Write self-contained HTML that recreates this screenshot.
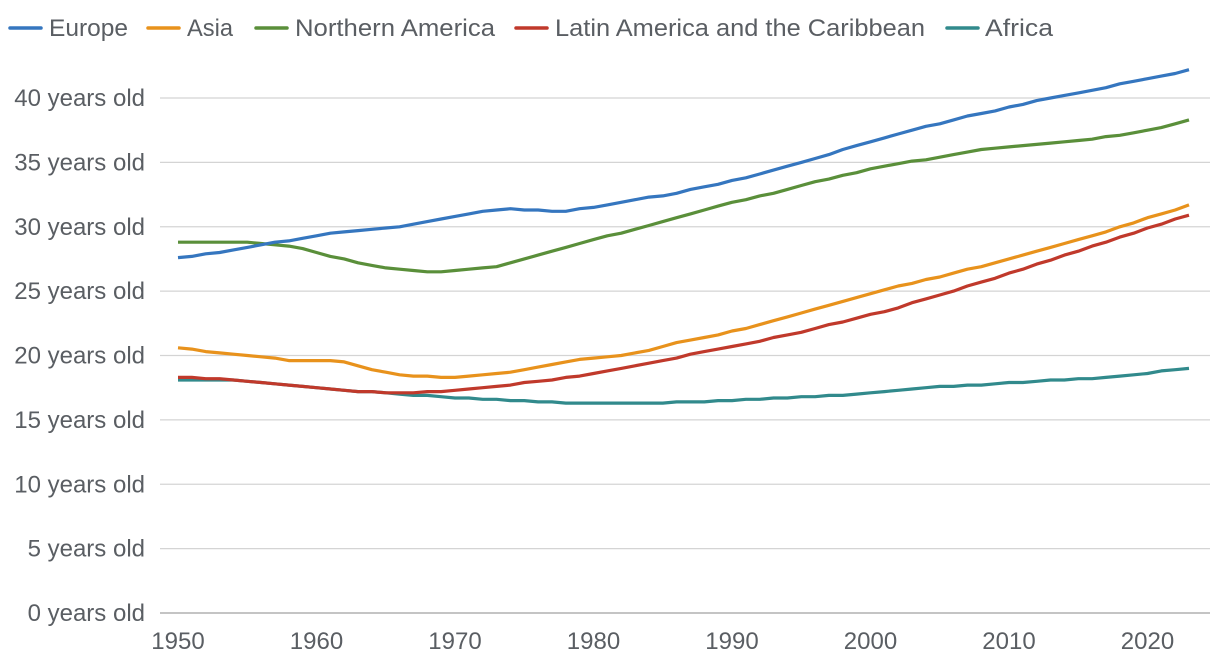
<!DOCTYPE html>
<html><head><meta charset="utf-8"><style>
body{margin:0;background:#fff;font-family:"Liberation Sans",sans-serif;}
svg text{font-family:"Liberation Sans",sans-serif;fill:#5a5e63;}
</style></head><body>
<svg id="chart" width="1220" height="662" xmlns="http://www.w3.org/2000/svg"></svg>
<script>
const years = Array.from({length:74},(_,i)=>1950+i);
const seriesNames = ["Europe","Asia","Northern America","Latin America and the Caribbean","Africa"];
const seriesColors = ["#3576bf","#e8921c","#5a8f3a","#c0392b","#318a8c"];
const europe = [27.6,27.7,27.9,28.0,28.2,28.4,28.6,28.8,28.9,29.1,29.3,29.5,29.6,29.7,29.8,29.9,30.0,30.2,30.4,30.6,30.8,31.0,31.2,31.3,31.4,31.3,31.3,31.2,31.2,31.4,31.5,31.7,31.9,32.1,32.3,32.4,32.6,32.9,33.1,33.3,33.6,33.8,34.1,34.4,34.7,35.0,35.3,35.6,36.0,36.3,36.6,36.9,37.2,37.5,37.8,38.0,38.3,38.6,38.8,39.0,39.3,39.5,39.8,40.0,40.2,40.4,40.6,40.8,41.1,41.3,41.5,41.7,41.9,42.2];
const asia = [20.6,20.5,20.3,20.2,20.1,20.0,19.9,19.8,19.6,19.6,19.6,19.6,19.5,19.2,18.9,18.7,18.5,18.4,18.4,18.3,18.3,18.4,18.5,18.6,18.7,18.9,19.1,19.3,19.5,19.7,19.8,19.9,20.0,20.2,20.4,20.7,21.0,21.2,21.4,21.6,21.9,22.1,22.4,22.7,23.0,23.3,23.6,23.9,24.2,24.5,24.8,25.1,25.4,25.6,25.9,26.1,26.4,26.7,26.9,27.2,27.5,27.8,28.1,28.4,28.7,29.0,29.3,29.6,30.0,30.3,30.7,31.0,31.3,31.7];
const northernAmerica = [28.8,28.8,28.8,28.8,28.8,28.8,28.7,28.6,28.5,28.3,28.0,27.7,27.5,27.2,27.0,26.8,26.7,26.6,26.5,26.5,26.6,26.7,26.8,26.9,27.2,27.5,27.8,28.1,28.4,28.7,29.0,29.3,29.5,29.8,30.1,30.4,30.7,31.0,31.3,31.6,31.9,32.1,32.4,32.6,32.9,33.2,33.5,33.7,34.0,34.2,34.5,34.7,34.9,35.1,35.2,35.4,35.6,35.8,36.0,36.1,36.2,36.3,36.4,36.5,36.6,36.7,36.8,37.0,37.1,37.3,37.5,37.7,38.0,38.3];
const latinAmerica = [18.3,18.3,18.2,18.2,18.1,18.0,17.9,17.8,17.7,17.6,17.5,17.4,17.3,17.2,17.2,17.1,17.1,17.1,17.2,17.2,17.3,17.4,17.5,17.6,17.7,17.9,18.0,18.1,18.3,18.4,18.6,18.8,19.0,19.2,19.4,19.6,19.8,20.1,20.3,20.5,20.7,20.9,21.1,21.4,21.6,21.8,22.1,22.4,22.6,22.9,23.2,23.4,23.7,24.1,24.4,24.7,25.0,25.4,25.7,26.0,26.4,26.7,27.1,27.4,27.8,28.1,28.5,28.8,29.2,29.5,29.9,30.2,30.6,30.9];
const africa = [18.1,18.1,18.1,18.1,18.1,18.0,17.9,17.8,17.7,17.6,17.5,17.4,17.3,17.2,17.2,17.1,17.0,16.9,16.9,16.8,16.7,16.7,16.6,16.6,16.5,16.5,16.4,16.4,16.3,16.3,16.3,16.3,16.3,16.3,16.3,16.3,16.4,16.4,16.4,16.5,16.5,16.6,16.6,16.7,16.7,16.8,16.8,16.9,16.9,17.0,17.1,17.2,17.3,17.4,17.5,17.6,17.6,17.7,17.7,17.8,17.9,17.9,18.0,18.1,18.1,18.2,18.2,18.3,18.4,18.5,18.6,18.8,18.9,19.0];
const yTicks = [0,5,10,15,20,25,30,35,40];
const xTicks = [1950,1960,1970,1980,1990,2000,2010,2020];

const svg = document.getElementById('chart');
const NS = "http://www.w3.org/2000/svg";
const X = y => 178 + (y-1950)*13.85;
const Y = v => 613 - v*12.875;
function mk(tag, attrs){const e=document.createElementNS(NS,tag);for(const k in attrs)e.setAttribute(k,attrs[k]);svg.appendChild(e);return e;}

yTicks.forEach(t=>{
  const g = mk('line',{x1:160,x2:1210,y1:Y(t),y2:Y(t),stroke:t===0?'#c4c4c4':'#d4d4d4','stroke-width':t===0?2:1.3});
  
  
  const l = mk('text',{x:145,y:Y(t)+8,'text-anchor':'end','font-size':24});
  l.textContent = t+' years old';
  
  
});
xTicks.forEach(t=>{
  const l = mk('text',{x:X(t),y:649,'text-anchor':'middle','font-size':24});
  l.textContent = t;
  
  
});
const data = [europe, asia, northernAmerica, latinAmerica, africa];
const order = [4,3,1,2,0];
order.forEach(i=>{
  const d = data[i].map((v,j)=>(j?'L':'M')+X(years[j]).toFixed(1)+','+Y(v).toFixed(1)).join('');
  const p = mk('path',{d:d,fill:'none',stroke:seriesColors[i],'stroke-width':3.2,'stroke-linejoin':'round'});
  
  
});
const legendX = [10,148,256,516,947];
const legendTextX = [49,187,295,555,985];
const legendW = [79,46,200,370,68];
seriesNames.forEach((n,i)=>{
  const s = mk('line',{x1:legendX[i],x2:legendX[i]+31,y1:28,y2:28,stroke:seriesColors[i],'stroke-width':3.5,'stroke-linecap':'round'});
  
  
  const t = mk('text',{x:legendTextX[i],y:36,'font-size':24,textLength:legendW[i],lengthAdjust:'spacingAndGlyphs'});
  t.textContent = n;
  
  
});
</script>
</body></html>
